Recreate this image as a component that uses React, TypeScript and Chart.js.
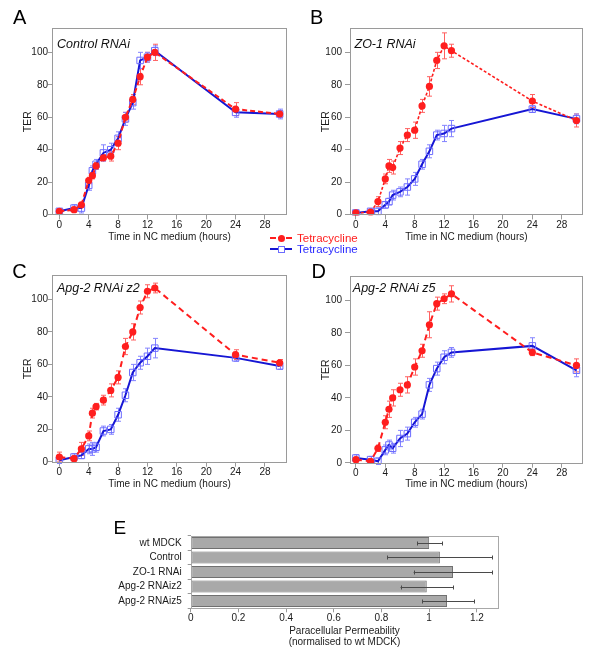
import React, { useEffect, useRef } from "react";
import { Chart, registerables } from "chart.js";
Chart.register(...registerables);

// ---------------- data ----------------
const HOURS = [0, 2, 3, 4, 4.5, 5, 6, 7, 8, 9, 10, 11, 12, 13, 24, 30];
const X_TICKS = [0, 4, 8, 12, 16, 20, 24, 28];
const Y_TICKS = [0, 20, 40, 60, 80, 100];

const A_RED = [2, 3, 6, 21, 24, 30, 35, 36, 44, 60, 71, 85, 97, 100, 65, 62];
const A_RED_ERR = [1, 1.5, 1.5, 2, 2, 2, 2, 3, 4, 3, 3, 5, 3, 5, 4, 2];
const A_BLUE = [2, 4, 4, 18, 27, 31, 38, 40, 47, 59, 69, 95, 97, 101, 63, 62];
const A_BLUE_ERR = [1.5, 2, 3, 3, 3, 3, 5, 4, 4, 4, 4, 5, 3, 3, 3, 3];

const B_RED = [1, 1.5, 8, 22, 30, 29, 41, 49, 52, 67, 79, 95, 104, 101, 70, 58];
const B_RED_ERR = [1, 1, 3, 3, 4, 4, 4, 4, 5, 4, 6, 5, 8, 4, 4, 4];
const B_BLUE = [1, 2, 2, 6, 8, 12, 14, 17, 22, 31, 39, 49, 50, 53, 65, 59];
const B_BLUE_ERR = [1, 1.5, 2, 2, 2, 3, 3, 5, 4, 3, 4, 3, 5, 5, 2, 3];

const C_RED = [3, 2, 8, 16, 30, 34, 38, 44, 52, 71, 80, 95, 105, 107, 66, 61];
const C_RED_ERR = [3, 2, 4, 3, 3, 2, 3, 4, 4, 5, 5, 4, 4, 3, 3, 2];
const C_BLUE = [1, 3, 4, 8, 8, 9, 19, 20, 29, 41, 55, 61, 65, 70, 64, 59];
const C_BLUE_ERR = [2, 2, 2, 3, 4, 3, 3, 3, 4, 4, 5, 4, 5, 6, 2, 2];

const D_RED = [2, 1, 9, 25, 33, 40, 45, 48, 59, 69, 85, 98, 101, 104, 68, 60];
const D_RED_ERR = [1.5, 1, 2, 4, 5, 5, 4, 5, 5, 4, 8, 4, 3, 5, 2, 4];
const D_BLUE = [3, 2, 1, 8, 11, 9, 15, 18, 25, 30, 48, 58, 65, 68, 72, 57];
const D_BLUE_ERR = [2, 2, 2, 3, 3, 3, 5, 4, 3, 3, 4, 4, 4, 3, 5, 4];

const E_CATEGORIES = ["wt MDCK", "Control", "ZO-1 RNAi", "Apg-2 RNAiz2", "Apg-2 RNAiz5"];
const E_VALUES = [1.0, 1.045, 1.1, 0.99, 1.075];
const E_ERR_LOW = [0.95, 0.825, 0.935, 0.88, 0.97];
const E_ERR_HIGH = [1.055, 1.265, 1.265, 1.1, 1.19];
const E_X_TICKS = [0, 0.2, 0.4, 0.6, 0.8, 1, 1.2];

// ---------------- styling ----------------
const FONT = "'Liberation Sans', Arial, Helvetica, sans-serif";
const RED = "#ff1e1e";
const RED_ERR = "#ff6060";
const BLUE = "#1616d4";
const BLUE_MARK = "#6c6cff";
const BLUE_ERR = "#8484ff";
const FRAME = "#9a9a9a";
const TEXT = "#1a1a1a";

Chart.defaults.font.family = FONT;

const boxPlugin = (color: string) => ({
  id: "box",
  afterDraw(chart: any) {
    const { left, top, right, bottom } = chart.chartArea;
    const ctx = chart.ctx;
    ctx.save();
    ctx.strokeStyle = color;
    ctx.lineWidth = 1;
    ctx.strokeRect(Math.round(left) + 0.5, Math.round(top) + 0.5, Math.round(right - left) - 1, Math.round(bottom - top) - 1);
    ctx.restore();
  },
});

const lineErrPlugin = (errs: number[][], colors: string[]) => ({
  id: "errbars",
  beforeDatasetsDraw(chart: any) {
    const ctx = chart.ctx;
    const ys = chart.scales.y;
    ctx.save();
    ctx.lineWidth = 1;
    errs.forEach((arr, di) => {
      const meta = chart.getDatasetMeta(di);
      ctx.strokeStyle = colors[di];
      meta.data.forEach((pt: any, i: number) => {
        const v = chart.data.datasets[di].data[i].y;
        const t = ys.getPixelForValue(v + arr[i]);
        const b = ys.getPixelForValue(v - arr[i]);
        const x = Math.round(pt.x) + 0.5;
        ctx.beginPath();
        ctx.moveTo(x, t);
        ctx.lineTo(x, b);
        ctx.moveTo(x - 2.5, t);
        ctx.lineTo(x + 2.5, t);
        ctx.moveTo(x - 2.5, b);
        ctx.lineTo(x + 2.5, b);
        ctx.stroke();
      });
    });
    ctx.restore();
  },
});

type Geo = {
  left: number; top: number; width: number; height: number;
  padLeft: number; padRight: number; padTop: number;
  yWidth: number; xHeight: number; xMin: number; xMax: number;
  yTickPad: number; yTickLen: number;
};

function LinePanel(props: {
  red: number[]; redErr: number[]; blue: number[]; blueErr: number[];
  geo: Geo; redDash: number[]; redWidth: number;
}) {
  const ref = useRef<HTMLCanvasElement>(null);
  useEffect(() => {
    const { red, redErr, blue, blueErr, geo, redDash, redWidth } = props;
    const tickFont = { family: FONT, size: 10 };
    const chart = new Chart(ref.current!, {
      type: "line",
      data: {
        datasets: [
          {
            label: "Tetracycline",
            data: HOURS.map((h, i) => ({ x: h, y: red[i] })),
            borderColor: RED,
            borderWidth: redWidth,
            borderDash: redDash,
            pointStyle: "circle",
            pointRadius: 3.6,
            pointBackgroundColor: RED,
            pointBorderColor: RED,
            pointBorderWidth: 0,
            tension: 0,
          },
          {
            label: "Tetracycline",
            data: HOURS.map((h, i) => ({ x: h, y: blue[i] })),
            borderColor: BLUE,
            borderWidth: 2,
            pointStyle: "rect",
            pointRadius: 4.6,
            pointBackgroundColor: "rgba(0,0,0,0)",
            pointBorderColor: BLUE_MARK,
            pointBorderWidth: 1,
            tension: 0,
          },
        ],
      },
      options: {
        animation: false,
        responsive: false,
        events: [],
        layout: { padding: { left: geo.padLeft, right: geo.padRight, top: geo.padTop, bottom: 0 } },
        plugins: { legend: { display: false }, tooltip: { enabled: false } },
        scales: {
          x: {
            type: "linear",
            min: geo.xMin,
            max: geo.xMax,
            afterBuildTicks: (s: any) => { s.ticks = X_TICKS.map((v) => ({ value: v })); },
            afterFit: (s: any) => { s.height = geo.xHeight; },
            grid: { display: true, drawOnChartArea: false, drawTicks: true, tickLength: 4, color: FRAME },
            border: { display: false },
            ticks: { font: tickFont, color: TEXT, padding: 0, maxRotation: 0, autoSkip: false, callback: (v: any) => String(v) },
            title: { display: true, text: "Time in NC medium (hours)", font: { family: FONT, size: 10 }, color: TEXT, padding: { top: 0, bottom: 4 } },
          },
          y: {
            type: "linear",
            min: -0.5,
            max: 115,
            afterBuildTicks: (s: any) => { s.ticks = Y_TICKS.map((v) => ({ value: v })); },
            afterFit: (s: any) => { s.width = geo.yWidth; },
            grid: { display: true, drawOnChartArea: false, drawTicks: true, tickLength: geo.yTickLen, color: FRAME },
            border: { display: false },
            ticks: { font: tickFont, color: TEXT, padding: geo.yTickPad, autoSkip: false, callback: (v: any) => String(v) },
            title: { display: true, text: "TER", font: { family: FONT, size: 10.5 }, color: TEXT, padding: { top: 4, bottom: 0 } },
          },
        },
      },
      plugins: [lineErrPlugin([redErr, blueErr], [RED_ERR, BLUE_ERR]), boxPlugin(FRAME)],
    } as any);
    return () => chart.destroy();
  }, []);
  const g = props.geo;
  return (
    <canvas
      ref={ref}
      width={g.width}
      height={g.height}
      style={{ position: "absolute", left: g.left, top: g.top, width: g.width, height: g.height }}
    />
  );
}

function BarPanel() {
  const ref = useRef<HTMLCanvasElement>(null);
  useEffect(() => {
    const errPlugin = {
      id: "barerr",
      afterDatasetsDraw(chart: any) {
        const ctx = chart.ctx;
        const xs = chart.scales.x;
        const meta = chart.getDatasetMeta(0);
        ctx.save();
        ctx.strokeStyle = "#4a4a4a";
        ctx.lineWidth = 1;
        meta.data.forEach((bar: any, i: number) => {
          const y = Math.round(bar.y) + 0.5;
          const l = xs.getPixelForValue(E_ERR_LOW[i]);
          const r = xs.getPixelForValue(E_ERR_HIGH[i]);
          ctx.beginPath();
          ctx.moveTo(l, y);
          ctx.lineTo(r, y);
          ctx.moveTo(Math.round(l) + 0.5, y - 2);
          ctx.lineTo(Math.round(l) + 0.5, y + 2);
          ctx.moveTo(Math.round(r) + 0.5, y - 2);
          ctx.lineTo(Math.round(r) + 0.5, y + 2);
          ctx.stroke();
        });
        ctx.restore();
      },
    };
    const chart = new Chart(ref.current!, {
      type: "bar",
      data: {
        labels: E_CATEGORIES,
        datasets: [
          {
            data: E_VALUES,
            backgroundColor: "#a9a9a9",
            borderColor: "#707070",
            borderWidth: 1,
            borderSkipped: false,
            barPercentage: 0.83,
            categoryPercentage: 1,
          },
        ],
      },
      options: {
        indexAxis: "y",
        animation: false,
        responsive: false,
        events: [],
        layout: { padding: { left: 0, right: 21.7, top: 20.7, bottom: 0 } },
        plugins: { legend: { display: false }, tooltip: { enabled: false } },
        scales: {
          x: {
            type: "linear",
            min: 0,
            max: 1.29,
            afterBuildTicks: (s: any) => { s.ticks = E_X_TICKS.map((v) => ({ value: v })); },
            afterFit: (s: any) => { s.height = 42.7; },
            grid: { display: true, drawOnChartArea: false, drawTicks: true, tickLength: 4, color: FRAME },
            border: { display: false },
            ticks: { font: { family: FONT, size: 10 }, color: TEXT, padding: 0, maxRotation: 0, autoSkip: false, callback: (v: any) => String(+(+v).toFixed(1)) },
            title: {
              display: true,
              text: ["Paracellular Permeability", "(normalised to wt MDCK)"],
              font: { family: FONT, size: 10, lineHeight: 1.05 },
              color: TEXT,
              padding: { top: 0, bottom: 4 },
            },
          },
          y: {
            type: "category",
            afterFit: (s: any) => { s.width = 90.7; },
            grid: { display: true, drawOnChartArea: false, drawTicks: true, tickLength: 3, color: FRAME, offset: true },
            border: { display: false },
            ticks: { font: { family: FONT, size: 10 }, color: TEXT, padding: 6, autoSkip: false },
          },
        },
      },
      plugins: [errPlugin, boxPlugin("#a8a8a8")],
    } as any);
    return () => chart.destroy();
  }, []);
  return (
    <canvas
      ref={ref}
      width={420}
      height={136}
      style={{ position: "absolute", left: 100, top: 515, width: 420, height: 136 }}
    />
  );
}

const letterStyle = (left: number, top: number, size: number): React.CSSProperties => ({
  position: "absolute", left, top, fontFamily: FONT, fontSize: size, lineHeight: `${size}px`, color: "#000",
});
const titleStyle = (left: number, top: number): React.CSSProperties => ({
  position: "absolute", left, top, fontFamily: FONT, fontSize: 12.5, lineHeight: "12.5px", fontStyle: "italic", color: "#111", whiteSpace: "nowrap",
});

export default function App() {
  const geoA: Geo = { left: 0, top: 0, width: 300, height: 247, padLeft: 18, padRight: 13, padTop: 28, yWidth: 34, xHeight: 31.6, xMin: -1, xMax: 31, yTickPad: 0, yTickLen: 4 };
  const geoB: Geo = { left: 300, top: 0, width: 300, height: 247, padLeft: 16, padRight: 17.3, padTop: 28, yWidth: 34, xHeight: 31.6, xMin: -0.8, xMax: 30.85, yTickPad: 3, yTickLen: 5 };
  const geoC: Geo = { left: 0, top: 250, width: 300, height: 244, padLeft: 18, padRight: 13, padTop: 25, yWidth: 34, xHeight: 31.3, xMin: -1, xMax: 31, yTickPad: 0, yTickLen: 4 };
  const geoD: Geo = { left: 300, top: 250, width: 300, height: 244, padLeft: 16, padRight: 17.3, padTop: 26, yWidth: 34, xHeight: 30.3, xMin: -0.8, xMax: 30.85, yTickPad: 3, yTickLen: 5 };
  return (
    <div style={{ position: "absolute", left: 0, top: 0, width: 600, height: 656, background: "#fff", overflow: "hidden" }}>
      <LinePanel red={A_RED} redErr={A_RED_ERR} blue={A_BLUE} blueErr={A_BLUE_ERR} geo={geoA} redDash={[5, 3]} redWidth={2} />
      <LinePanel red={B_RED} redErr={B_RED_ERR} blue={B_BLUE} blueErr={B_BLUE_ERR} geo={geoB} redDash={[3, 2]} redWidth={1.6} />
      <LinePanel red={C_RED} redErr={C_RED_ERR} blue={C_BLUE} blueErr={C_BLUE_ERR} geo={geoC} redDash={[6, 4]} redWidth={2} />
      <LinePanel red={D_RED} redErr={D_RED_ERR} blue={D_BLUE} blueErr={D_BLUE_ERR} geo={geoD} redDash={[6, 4]} redWidth={2} />
      <BarPanel />

      <div style={letterStyle(13, 7.4, 20)}>A</div>
      <div style={letterStyle(310, 7.4, 20)}>B</div>
      <div style={letterStyle(12.3, 261.4, 20)}>C</div>
      <div style={letterStyle(311.5, 260.7, 20)}>D</div>
      <div style={letterStyle(113.5, 517.5, 19)}>E</div>

      <div style={titleStyle(57, 37.7)}>Control RNAi</div>
      <div style={titleStyle(354.5, 37.7)}>ZO-1 RNAi</div>
      <div style={titleStyle(57, 282.1)}>Apg-2 RNAi z2</div>
      <div style={titleStyle(352.8, 282.1)}>Apg-2 RNAi z5</div>

      {/* legend */}
      <div style={{ position: "absolute", left: 270, top: 237, width: 22, height: 0, borderTop: `2px dashed ${RED}` }} />
      <div style={{ position: "absolute", left: 277.5, top: 234.8, width: 7, height: 7, borderRadius: "50%", background: RED }} />
      <div style={{ position: "absolute", left: 297, top: 232, fontFamily: FONT, fontSize: 11.5, lineHeight: "12px", color: "#ff2020", whiteSpace: "nowrap" }}>Tetracycline</div>
      <div style={{ position: "absolute", left: 270, top: 248, width: 22, height: 2, background: BLUE }} />
      <div style={{ position: "absolute", left: 277.5, top: 245.5, width: 7, height: 7, boxSizing: "border-box", border: `1px solid ${BLUE_MARK}`, background: "#fff" }} />
      <div style={{ position: "absolute", left: 297, top: 243, fontFamily: FONT, fontSize: 11.5, lineHeight: "12px", color: "#2a2aff", whiteSpace: "nowrap" }}>Tetracycline</div>
    </div>
  );
}
